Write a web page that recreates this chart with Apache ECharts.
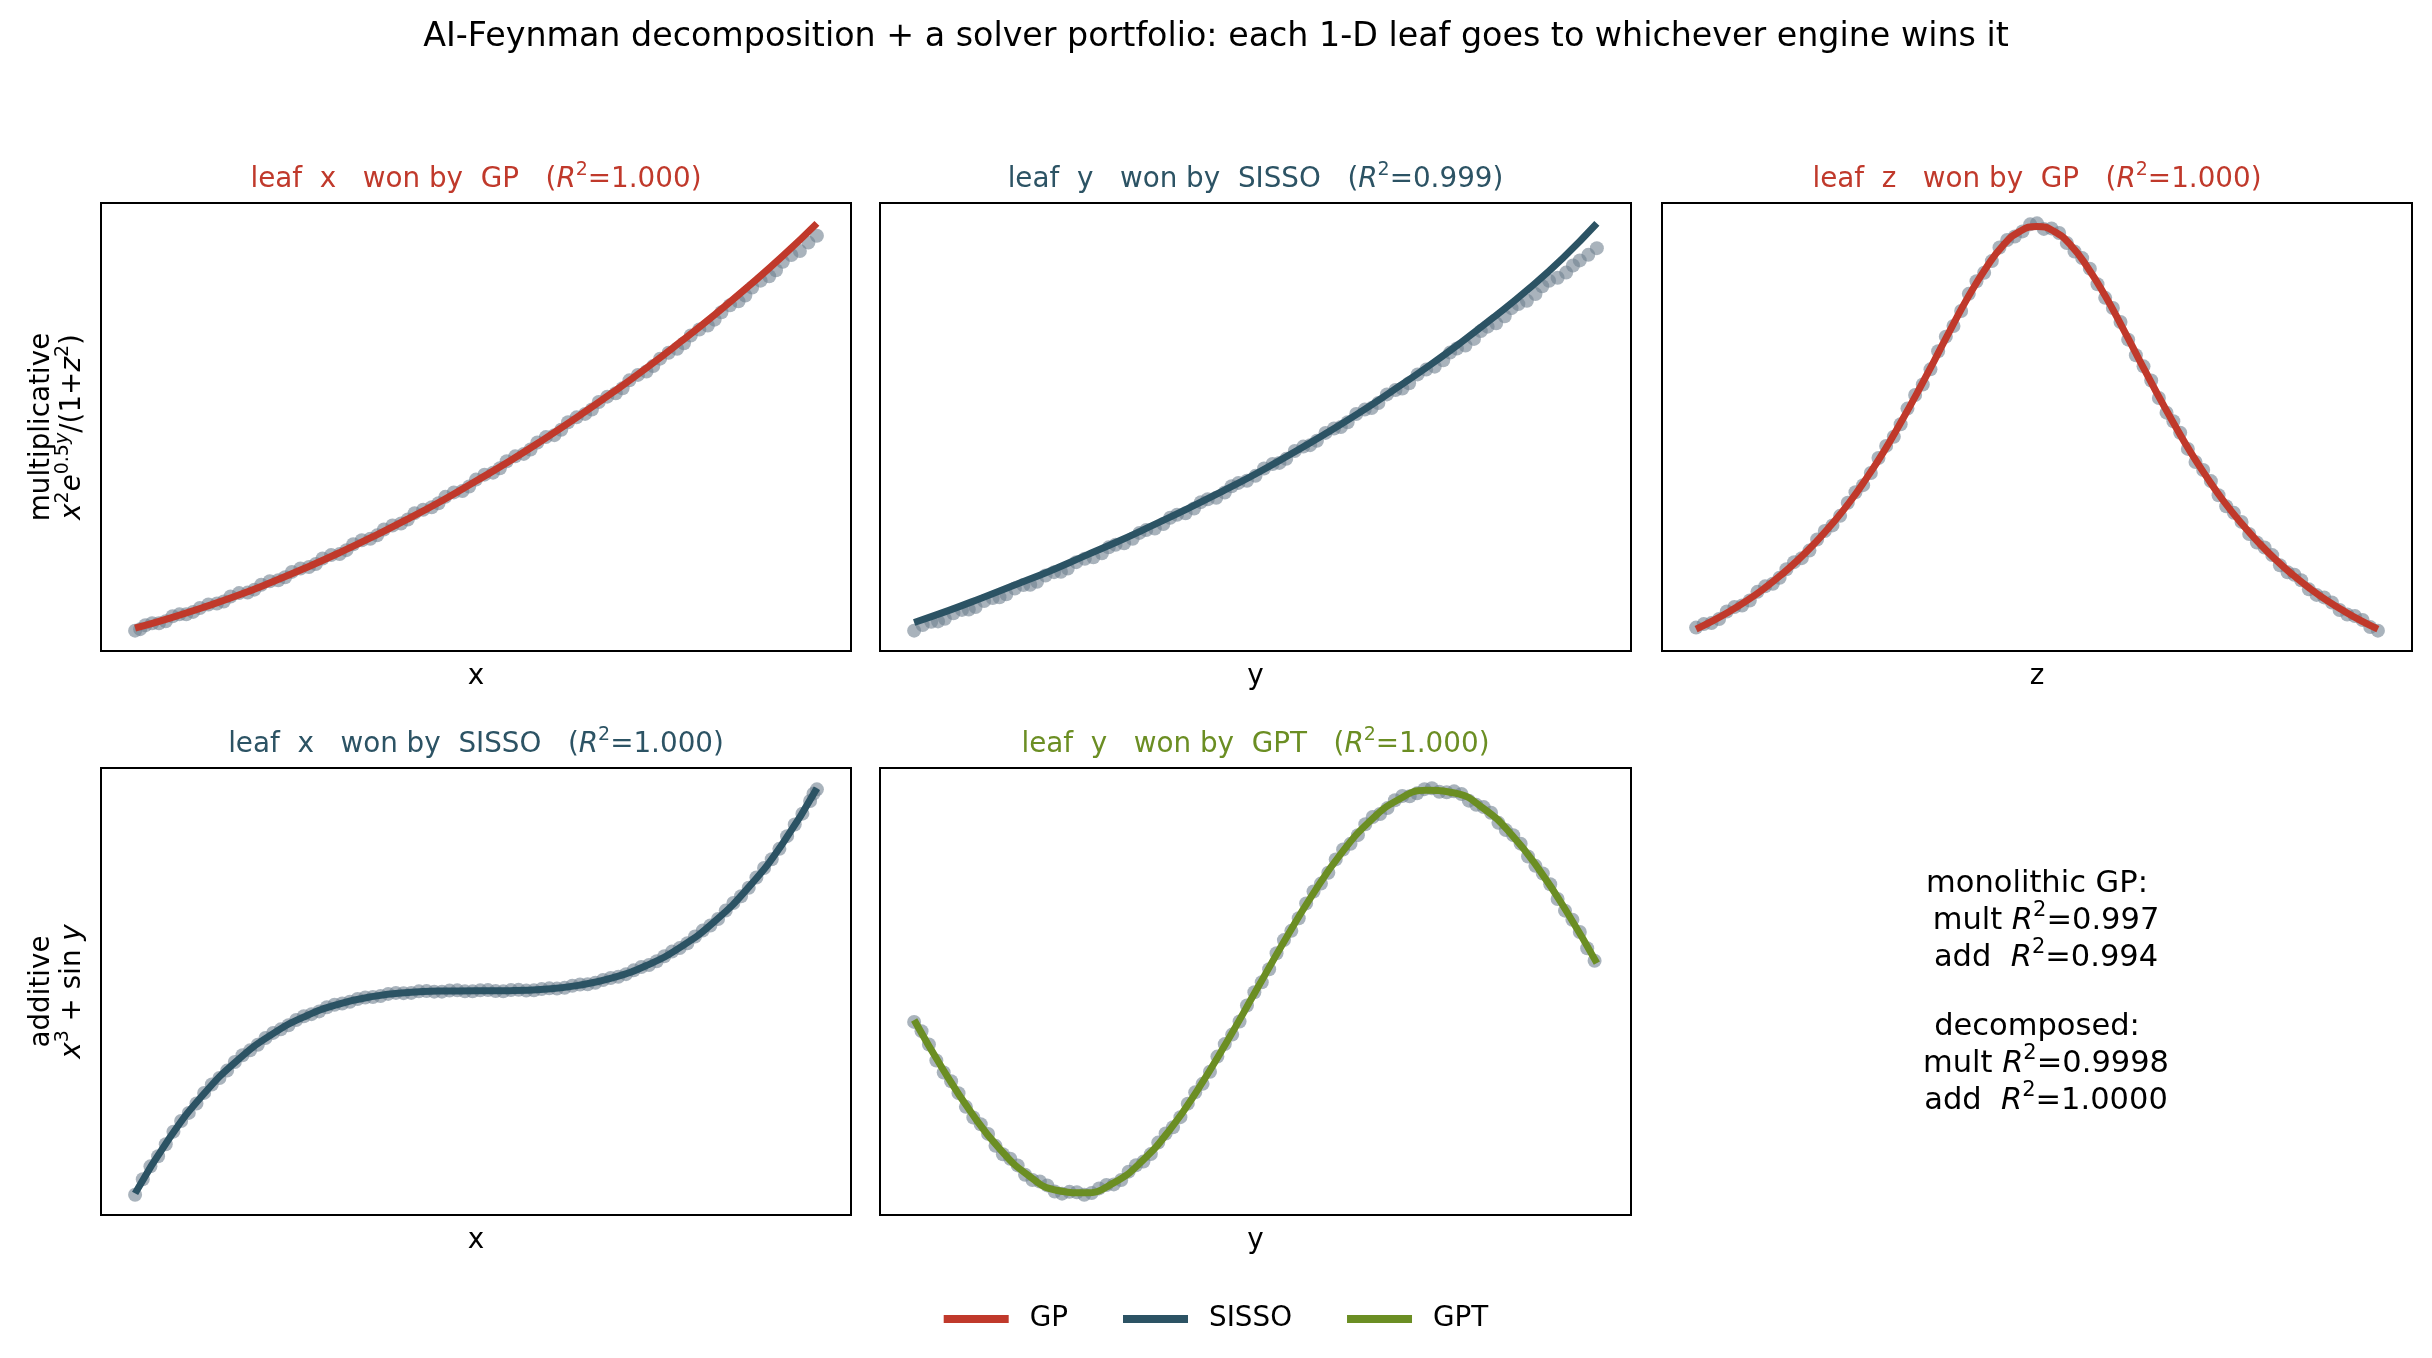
<!DOCTYPE html>
<html>
<head>
<meta charset="utf-8">
<title>AI-Feynman decomposition + solver portfolio</title>
<script src="https://cdn.jsdelivr.net/npm/echarts@6/dist/echarts.min.js"></script>
<style>
html, body { margin: 0; padding: 0; background: #fff; }
#main { width: 2432px; height: 1358px; }
</style>
</head>
<body>
<div id="main"></div>
<script>
// engine colours
var GP_RED = '#c0392b', SISSO_BLUE = '#2c5364', GPT_GREEN = '#6b8e23';
var DOT_GREY = 'rgba(112,128,144,0.75)';
var FONT = 'DejaVu Sans';

// ---------- data ----------
// multiplicative target, leaf x  (samples + GP fit)
var multXDots = [[1.00,0.97],[1.03,1.08],[1.07,1.12],[1.11,1.26],[1.15,1.30],[1.19,1.43],[1.24,1.52],[1.28,1.66],[1.33,1.74],[1.37,1.90],[1.42,1.99],[1.46,2.16],[1.51,2.26],[1.55,2.43],[1.60,2.52],[1.64,2.72],[1.69,2.83],[1.73,3.02],[1.78,3.14],[1.82,3.35],[1.87,3.47],[1.91,3.68],[1.96,3.80],[2.00,4.03],[2.05,4.17],[2.09,4.40],[2.14,4.55],[2.18,4.78],[2.23,4.93],[2.27,5.19],[2.32,5.36],[2.36,5.60],[2.41,5.78],[2.45,6.04],[2.50,6.22],[2.54,6.48],[2.59,6.68],[2.63,6.95],[2.68,7.15],[2.72,7.42],[2.77,7.64],[2.81,7.92],[2.86,8.15],[2.90,8.44],[2.95,8.66],[3.00,8.97],
    [1.015,1.00],[1.05,1.12],[1.09,1.16],[1.13,1.30],[1.17,1.35],[1.215,1.50],[1.26,1.56],[1.305,1.73],[1.35,1.80],[1.395,1.97],[1.44,2.05],[1.485,2.23],[1.53,2.32],[1.575,2.50],[1.62,2.60],[1.665,2.80],[1.71,2.90],[1.755,3.10],[1.80,3.22],[1.845,3.42],[1.89,3.55],[1.935,3.77],[1.98,3.89],[2.025,4.13],[2.07,4.26],[2.115,4.50],[2.16,4.64],[2.205,4.89],[2.25,5.04],[2.295,5.29],[2.34,5.45],[2.385,5.71],[2.43,5.88],[2.475,6.15],[2.52,6.33],[2.565,6.60],[2.61,6.79],[2.655,7.07],[2.70,7.27],[2.745,7.56],[2.79,7.76],[2.835,8.06],[2.88,8.27],[2.925,8.58],[2.975,8.83]];
var multXLine = [[1.0,1.02],[1.1,1.22],[1.2,1.44],[1.3,1.68],[1.4,1.95],[1.5,2.24],[1.6,2.55],[1.7,2.88],[1.8,3.23],[1.9,3.60],[2.0,4.00],[2.1,4.41],[2.2,4.85],[2.3,5.31],[2.4,5.79],[2.5,6.29],[2.6,6.82],[2.7,7.37],[2.8,7.95],[2.9,8.56],[3.0,9.22]];

// multiplicative target, leaf y  (samples + SISSO fit)
var multYDots = [[-1.00,0.603],[-0.95,0.627],[-0.91,0.635],[-0.86,0.659],[-0.82,0.667],[-0.77,0.691],[-0.73,0.701],[-0.68,0.726],[-0.64,0.735],[-0.59,0.761],[-0.55,0.771],[-0.50,0.797],[-0.45,0.812],[-0.41,0.835],[-0.36,0.851],[-0.32,0.875],[-0.27,0.891],[-0.23,0.916],[-0.18,0.933],[-0.14,0.958],[-0.09,0.976],[-0.05,1.002],[0.00,1.021],[0.05,1.053],[0.09,1.067],[0.14,1.100],[0.18,1.116],[0.23,1.149],[0.27,1.166],[0.32,1.200],[0.36,1.218],[0.41,1.253],[0.45,1.271],[0.50,1.308],[0.55,1.333],[0.59,1.365],[0.64,1.391],[0.68,1.424],[0.73,1.452],[0.77,1.485],[0.82,1.512],[0.86,1.548],[0.91,1.570],[0.95,1.603],[1.00,1.636],
    [-0.975,0.618],[-0.93,0.628],[-0.885,0.650],[-0.84,0.660],[-0.795,0.683],[-0.75,0.693],[-0.705,0.717],[-0.66,0.727],[-0.615,0.752],[-0.57,0.762],[-0.525,0.788],[-0.475,0.801],[-0.43,0.828],[-0.385,0.839],[-0.34,0.867],[-0.295,0.879],[-0.25,0.908],[-0.205,0.920],[-0.16,0.950],[-0.115,0.962],[-0.07,0.993],[-0.025,1.008],[0.025,1.041],[0.07,1.056],[0.115,1.088],[0.16,1.104],[0.205,1.137],[0.25,1.153],[0.295,1.188],[0.34,1.204],[0.385,1.241],[0.43,1.257],[0.475,1.295],[0.525,1.316],[0.57,1.354],[0.615,1.373],[0.66,1.412],[0.705,1.433],[0.75,1.474],[0.795,1.494],[0.84,1.533],[0.885,1.556],[0.93,1.589],[0.975,1.618]];
var multYLine = [[-1.0,0.625],[-0.9,0.657],[-0.8,0.692],[-0.7,0.728],[-0.6,0.765],[-0.5,0.805],[-0.4,0.845],[-0.3,0.888],[-0.2,0.932],[-0.1,0.978],[0.0,1.026],[0.1,1.078],[0.2,1.132],[0.3,1.189],[0.4,1.250],[0.5,1.313],[0.6,1.380],[0.7,1.451],[0.8,1.526],[0.9,1.609],[1.0,1.703]];

// multiplicative target, leaf z  (samples + GP fit)
var multZDots = [[-2.00,0.203],[-1.91,0.212],[-1.82,0.235],[-1.73,0.247],[-1.64,0.274],[-1.55,0.290],[-1.47,0.319],[-1.38,0.341],[-1.29,0.378],[-1.20,0.406],[-1.11,0.451],[-1.02,0.486],[-0.93,0.540],[-0.84,0.582],[-0.76,0.638],[-0.67,0.686],[-0.58,0.752],[-0.49,0.802],[-0.40,0.866],[-0.31,0.908],[-0.22,0.958],[-0.13,0.980],[-0.04,1.004],[0.04,0.995],[0.13,0.987],[0.22,0.950],[0.31,0.916],[0.40,0.858],[0.49,0.810],[0.58,0.744],[0.67,0.694],[0.76,0.630],[0.84,0.590],[0.93,0.532],[1.02,0.494],[1.11,0.444],[1.20,0.413],[1.29,0.372],[1.38,0.347],[1.47,0.313],[1.55,0.297],[1.64,0.268],[1.73,0.253],[1.82,0.229],[1.91,0.218],[2.00,0.197],
    [-1.955,0.210],[-1.865,0.220],[-1.775,0.244],[-1.685,0.257],[-1.595,0.285],[-1.51,0.302],[-1.425,0.333],[-1.335,0.356],[-1.245,0.395],[-1.155,0.425],[-1.065,0.472],[-0.975,0.510],[-0.885,0.564],[-0.80,0.607],[-0.715,0.665],[-0.625,0.716],[-0.535,0.781],[-0.445,0.832],[-0.355,0.891],[-0.265,0.931],[-0.175,0.973],[-0.085,0.990],[0.0,1.006],[0.085,0.996],[0.175,0.967],[0.265,0.937],[0.355,0.885],[0.445,0.838],[0.535,0.775],[0.625,0.722],[0.715,0.659],[0.80,0.613],[0.885,0.558],[0.975,0.516],[1.065,0.466],[1.155,0.431],[1.245,0.389],[1.335,0.362],[1.425,0.327],[1.51,0.308],[1.595,0.279],[1.685,0.263],[1.775,0.238],[1.865,0.226],[1.955,0.204]];
var multZLine = [[-2.0,0.200],[-1.9,0.217],[-1.8,0.236],[-1.7,0.257],[-1.6,0.281],[-1.5,0.308],[-1.4,0.338],[-1.3,0.372],[-1.2,0.410],[-1.1,0.452],[-1.0,0.500],[-0.9,0.552],[-0.8,0.610],[-0.7,0.671],[-0.6,0.735],[-0.5,0.800],[-0.4,0.862],[-0.3,0.917],[-0.2,0.962],[-0.1,0.990],[0.0,1.000],[0.1,0.990],[0.2,0.962],[0.3,0.917],[0.4,0.862],[0.5,0.800],[0.6,0.735],[0.7,0.671],[0.8,0.610],[0.9,0.552],[1.0,0.500],[1.1,0.452],[1.2,0.410],[1.3,0.372],[1.4,0.338],[1.5,0.308],[1.6,0.281],[1.7,0.257],[1.8,0.236],[1.9,0.217],[2.0,0.200]];

// additive target, leaf x  (samples + SISSO fit)
var addXDots = [[-2.00,-8.05],[-1.91,-6.93],[-1.82,-6.06],[-1.73,-5.14],[-1.64,-4.45],[-1.55,-3.70],[-1.46,-3.15],[-1.37,-2.54],[-1.28,-2.13],[-1.19,-1.66],[-1.10,-1.36],[-1.01,-1.00],[-0.92,-0.81],[-0.83,-0.55],[-0.74,-0.43],[-0.65,-0.26],[-0.56,-0.20],[-0.47,-0.08],[-0.38,-0.08],[-0.29,-0.01],[-0.20,-0.03],[-0.11,0.02],[-0.02,-0.02],[0.07,0.03],[0.16,-0.02],[0.25,0.04],[0.34,0.02],[0.43,0.10],[0.52,0.12],[0.61,0.25],[0.70,0.32],[0.79,0.51],[0.88,0.66],[0.97,0.94],[1.06,1.17],[1.15,1.55],[1.24,1.88],[1.33,2.38],[1.42,2.84],[1.51,3.47],[1.60,4.07],[1.69,4.85],[1.78,5.61],[1.87,6.57],[1.96,7.50],[2.00,7.96],
    [-1.955,-7.44],[-1.865,-6.53],[-1.775,-5.56],[-1.685,-4.82],[-1.595,-4.03],[-1.505,-3.44],[-1.415,-2.81],[-1.325,-2.35],[-1.235,-1.86],[-1.145,-1.52],[-1.055,-1.15],[-0.965,-0.92],[-0.875,-0.65],[-0.785,-0.50],[-0.695,-0.32],[-0.605,-0.24],[-0.515,-0.12],[-0.425,-0.09],[-0.335,-0.02],[-0.245,-0.03],[-0.155,0.01],[-0.065,-0.02],[0.025,0.02],[0.115,-0.01],[0.205,0.03],[0.295,0.01],[0.385,0.07],[0.475,0.09],[0.565,0.20],[0.655,0.26],[0.745,0.43],[0.835,0.56],[0.925,0.81],[1.015,1.02],[1.105,1.37],[1.195,1.69],[1.285,2.15],[1.375,2.58],[1.465,3.17],[1.555,3.74],[1.645,4.48],[1.735,5.20],[1.825,6.11],[1.915,7.00],[1.98,7.79]];
var addXLine = [[-2.0,-8.000],[-1.8,-5.832],[-1.6,-4.096],[-1.4,-2.744],[-1.2,-1.728],[-1.0,-1.000],[-0.8,-0.512],[-0.6,-0.216],[-0.4,-0.064],[-0.2,-0.008],[0.0,0.000],[0.2,0.008],[0.4,0.064],[0.6,0.216],[0.8,0.512],[1.0,1.000],[1.2,1.728],[1.4,2.744],[1.6,4.096],[1.8,5.832],[2.0,8.000]];

// additive target, leaf y  (samples + GPT fit)
var addYDots = [[-3.00,-0.150],[-2.87,-0.262],[-2.74,-0.401],[-2.61,-0.503],[-2.48,-0.624],[-2.35,-0.705],[-2.22,-0.806],[-2.09,-0.861],[-1.96,-0.933],[-1.83,-0.960],[-1.70,-1.001],[-1.57,-0.994],[-1.44,-0.998],[-1.31,-0.958],[-1.18,-0.933],[-1.05,-0.860],[-0.92,-0.805],[-0.79,-0.703],[-0.66,-0.622],[-0.53,-0.499],[-0.40,-0.397],[-0.27,-0.260],[-0.14,-0.148],[-0.01,-0.003],[0.12,0.111],[0.25,0.255],[0.38,0.363],[0.51,0.496],[0.64,0.589],[0.77,0.704],[0.90,0.775],[1.03,0.865],[1.16,0.909],[1.29,0.969],[1.42,0.982],[1.55,1.007],[1.68,0.987],[1.81,0.979],[1.94,0.925],[2.07,0.886],[2.20,0.800],[2.33,0.733],[2.46,0.623],[2.59,0.532],[2.72,0.401],[2.85,0.295],[2.98,0.153],
    [-2.935,-0.196],[-2.805,-0.341],[-2.675,-0.444],[-2.545,-0.571],[-2.415,-0.657],[-2.285,-0.764],[-2.155,-0.828],[-2.025,-0.907],[-1.895,-0.941],[-1.765,-0.990],[-1.635,-0.992],[-1.505,-1.006],[-1.375,-0.975],[-1.245,-0.955],[-1.115,-0.892],[-0.985,-0.842],[-0.855,-0.748],[-0.725,-0.672],[-0.595,-0.555],[-0.465,-0.457],[-0.335,-0.322],[-0.205,-0.213],[-0.075,-0.069],[0.055,0.046],[0.185,0.190],[0.315,0.301],[0.445,0.437],[0.575,0.535],[0.705,0.655],[0.835,0.732],[0.965,0.829],[1.095,0.880],[1.225,0.948],[1.355,0.968],[1.485,1.003],[1.615,0.990],[1.745,0.992],[1.875,0.946],[2.005,0.914],[2.135,0.836],[2.265,0.775],[2.395,0.669],[2.525,0.585],[2.655,0.459],[2.785,0.356],[2.915,0.215]];
var addYLine = [[-3.00,-0.141],[-2.75,-0.382],[-2.50,-0.598],[-2.25,-0.778],[-2.00,-0.909],[-1.75,-0.984],[-1.50,-0.997],[-1.25,-0.949],[-1.00,-0.841],[-0.75,-0.682],[-0.50,-0.479],[-0.25,-0.247],[0.00,0.000],[0.25,0.247],[0.50,0.479],[0.75,0.682],[1.00,0.841],[1.25,0.949],[1.50,0.997],[1.75,0.984],[2.00,0.909],[2.25,0.778],[2.50,0.598],[2.75,0.382],[3.00,0.141]];

var engines = ['GP', 'SISSO', 'GPT'];
var engineColors = {GP: GP_RED, SISSO: SISSO_BLUE, GPT: GPT_GREEN};
var leafNames = ['x', 'y', 'z', 'x', 'y'];
var leafWinners = ['GP', 'SISSO', 'GP', 'SISSO', 'GPT'];
var leafR2 = ['1.000', '0.999', '1.000', '1.000', '1.000'];
var summaryLines = ['monolithic GP:', 'mult {i|R}{s|2}=0.997', 'add  {i|R}{s|2}=0.994', 'decomposed:', 'mult {i|R}{s|2}=0.9998', 'add  {i|R}{s|2}=1.0000'];

var allDots = [multXDots, multYDots, multZDots, addXDots, addYDots];
var allLines = [multXLine, multYLine, multZLine, addXLine, addYLine];

// ---------- layout ----------
// grid boxes [left, top, width, height] in px
var boxes = [[101,203,750,448],[880,203,751,448],[1662,203,750,448],[101,768,750,447],[880,768,751,447]];
var yNames = {
    0: 'multiplicative\n{i|x}{s|2}{i|e}{s|0.5}{si|y}/(1+{i|z}{s|2})',
    3: 'additive\n{i|x}{s|3} + sin {i|y}'
};

function richFor(size, color) {
    var sup = Math.round(size * 0.7);
    return {
        i: {fontFamily: FONT, fontSize: size, fontStyle: 'italic', color: color, lineHeight: size * 1.1},
        s: {fontFamily: FONT, fontSize: sup, color: color, lineHeight: size * 1.1, padding: [0, 0, sup, 0]},
        si: {fontFamily: FONT, fontSize: sup, fontStyle: 'italic', color: color, lineHeight: size * 1.1, padding: [0, 0, sup, 0]}
    };
}

//数据范围加 5% 边距
function padRange(arrs, k) {
    var lo = Infinity, hi = -Infinity;
    for (var a = 0; a < arrs.length; a++) {
        for (var i = 0; i < arrs[a].length; i++) {
            var v = arrs[a][i][k];
            if (v < lo) lo = v;
            if (v > hi) hi = v;
        }
    }
    var p = (hi - lo) * 0.05;
    return [lo - p, hi + p];
}

var grids = [], xAxes = [], yAxes = [], series = [];
var titles = [{
    text: 'AI-Feynman decomposition + a solver portfolio: each 1-D leaf goes to whichever engine wins it',
    left: 1216, top: 37, textAlign: 'center', textVerticalAlign: 'middle', padding: 0,
    textStyle: {fontFamily: FONT, fontSize: 33.3, fontWeight: 'normal', color: '#000'}
}];

for (var p = 0; p < boxes.length; p++) {
    var b = boxes[p];
    var col = engineColors[leafWinners[p]];
    var xr = padRange([allDots[p], allLines[p]], 0);
    var yr = padRange([allDots[p], allLines[p]], 1);
    grids.push({left: b[0], top: b[1], width: b[2], height: b[3], show: true,
        borderColor: '#000', borderWidth: 2, backgroundColor: '#fff', outerBoundsMode: 'none'});
    xAxes.push({
        type: 'value', gridIndex: p, min: xr[0], max: xr[1],
        axisLine: {show: false}, axisTick: {show: false}, axisLabel: {show: false}, splitLine: {show: false},
        name: leafNames[p], nameLocation: 'middle', nameGap: 12,
        nameTextStyle: {fontFamily: FONT, fontSize: 27.8, color: '#000'}
    });
    var ya = {
        type: 'value', gridIndex: p, min: yr[0], max: yr[1],
        axisLine: {show: false}, axisTick: {show: false}, axisLabel: {show: false}, splitLine: {show: false}
    };
    if (yNames[p]) {
        ya.name = yNames[p];
        ya.nameLocation = 'middle';
        ya.nameRotate = 90;
        ya.nameGap = 13;
        ya.nameTextStyle = {fontFamily: FONT, fontSize: 27.8, color: '#000', lineHeight: 31,
            rich: richFor(27.8, '#000')};
        ya.nameTextStyle.rich.i.lineHeight = 31;
        ya.nameTextStyle.rich.s.lineHeight = 31;
        ya.nameTextStyle.rich.si.lineHeight = 31;
    }
    yAxes.push(ya);

    titles.push({
        text: 'leaf  ' + leafNames[p] + '   won by  ' + leafWinners[p] + '   ({i|R}{s|2}=' + leafR2[p] + ')',
        left: b[0] + b[2] / 2, top: b[1] - 23, textAlign: 'center', textVerticalAlign: 'middle', padding: 0,
        textStyle: {fontFamily: FONT, fontSize: 27.8, fontWeight: 'normal', color: col, lineHeight: 31,
            rich: richFor(27.8, col)}
    });

    series.push({
        type: 'scatter', xAxisIndex: p, yAxisIndex: p, data: allDots[p],
        symbolSize: 14, itemStyle: {color: DOT_GREY}, silent: true, z: 2
    });
    series.push({
        type: 'line', name: leafWinners[p], xAxisIndex: p, yAxisIndex: p, data: allLines[p],
        showSymbol: false, symbol: 'none', smooth: true, silent: true,
        lineStyle: {width: 7, color: col}, itemStyle: {color: col}, z: 3
    });
}

// summary block, each line centred in the empty 6th cell
var summaryY = [884, 921, 958, 1027, 1064, 1101];
for (var k = 0; k < summaryLines.length; k++) {
    var hasColon = summaryLines[k].indexOf(':') >= 0;
    titles.push({
        text: summaryLines[k],
        left: hasColon ? 2037 : 2046, top: summaryY[k], textAlign: 'center', textVerticalAlign: 'middle', padding: 0,
        textStyle: {fontFamily: FONT, fontSize: 30.5, fontWeight: 'normal', color: '#000', lineHeight: 34,
            rich: richFor(30.5, '#000')}
    });
}

var option = {
    animation: false,
    backgroundColor: '#fff',
    title: titles,
    legend: {
        left: 'center', top: 1305, padding: 0,
        itemWidth: 65, itemHeight: 8, itemGap: 55,
        data: engines.map(function (e) { return {name: e, icon: 'rect'}; }),
        textStyle: {fontFamily: FONT, fontSize: 27.8, color: '#000', padding: [0, 0, 0, 16]}
    },
    grid: grids,
    xAxis: xAxes,
    yAxis: yAxes,
    series: series
};

var chart = echarts.init(document.getElementById('main'), null, {renderer: 'canvas'});
chart.setOption(option);
</script>
</body>
</html>
